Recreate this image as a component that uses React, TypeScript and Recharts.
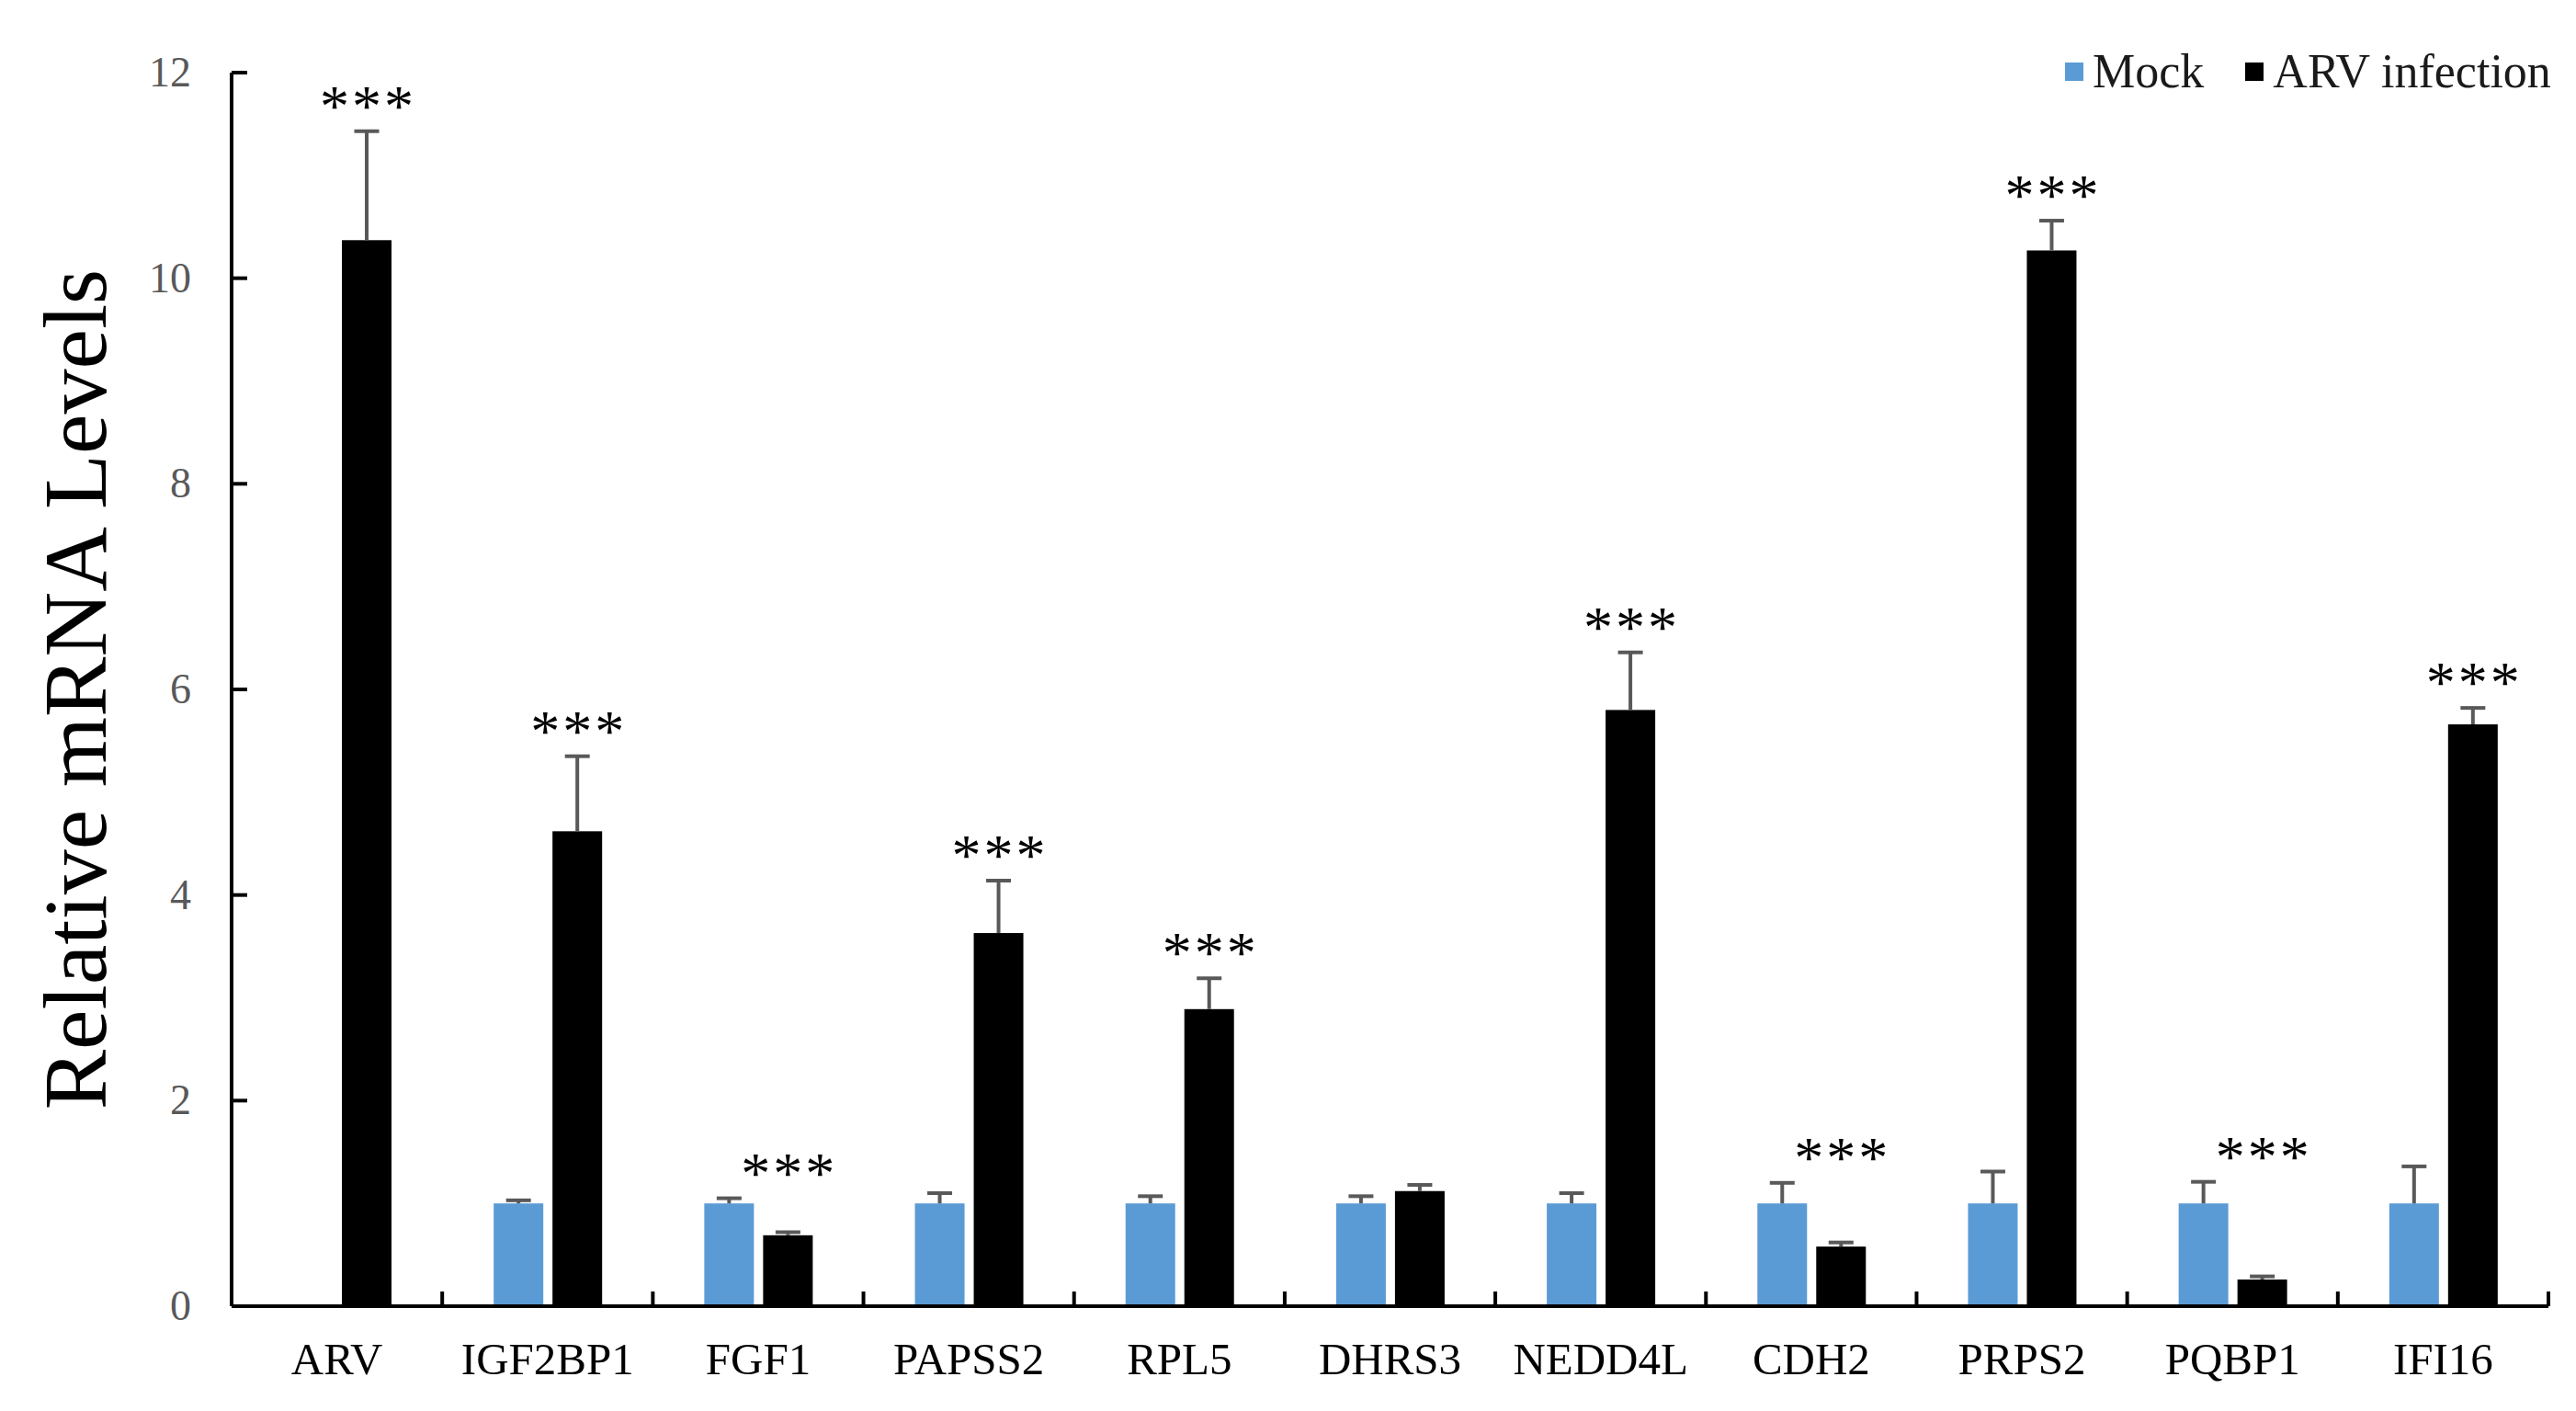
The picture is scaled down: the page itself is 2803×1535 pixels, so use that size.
import React from 'react'
import { BarChart, Bar, XAxis, YAxis, Legend, Label } from 'recharts'

const categories = ['ARV', 'IGF2BP1', 'FGF1', 'PAPSS2', 'RPL5', 'DHRS3', 'NEDD4L', 'CDH2', 'PRPS2', 'PQBP1', 'IFI16']
const mockValues = [0, 1, 1, 1, 1, 1, 1, 1, 1, 1, 1]
const mockErrors = [0, 0.03, 0.05, 0.1, 0.07, 0.07, 0.1, 0.2, 0.31, 0.21, 0.36]
const arvValues = [10.37, 4.62, 0.69, 3.63, 2.89, 1.12, 5.8, 0.58, 10.27, 0.26, 5.66]
const arvErrors = [1.06, 0.73, 0.03, 0.51, 0.3, 0.06, 0.56, 0.04, 0.29, 0.03, 0.16]
const significance = ['***', '***', '***', '***', '***', '', '***', '***', '***', '***', '***']
const seriesNames = ['Mock', 'ARV infection']
const yTicks = [0, 2, 4, 6, 8, 10, 12]

const FONT = '"Liberation Serif", "Times New Roman", serif'
const BLUE = '#5B9BD5'
const ERR_COLOR = '#595959'

const chartData = categories.map((name, i) => ({
  name,
  mock: mockValues[i],
  mockErr: mockErrors[i],
  arv: arvValues[i],
  arvErr: arvErrors[i],
  sig: significance[i]
}))

// upper half error bar only
const errorBar = (cx: number, top: number, errPx: number) => (
  <g>
    <line x1={cx} x2={cx} y1={top} y2={top - errPx} stroke={ERR_COLOR} strokeWidth={4} />
    <line x1={cx - 13.5} x2={cx + 13.5} y1={top - errPx} y2={top - errPx} stroke={ERR_COLOR} strokeWidth={4} />
  </g>
)

const MockShape = (props: any) => {
  const { x, y, width, height, fill, payload } = props
  if (!payload.mock || height <= 0) return null
  const ppu = height / payload.mock
  return (
    <g>
      <rect x={x} y={y} width={width} height={height} fill={fill} />
      {errorBar(x + width / 2, y, payload.mockErr * ppu)}
    </g>
  )
}

const ArvShape = (props: any) => {
  const { x, y, width, height, fill, payload } = props
  if (height <= 0) return null
  const ppu = height / payload.arv
  const base = y + height
  const cx = x + width / 2
  const top = Math.min(y - payload.arvErr * ppu, base - (payload.mock + payload.mockErr) * ppu)
  return (
    <g>
      <rect x={x} y={y} width={width} height={height} fill={fill} />
      {errorBar(cx, y, payload.arvErr * ppu)}
      {payload.sig && (
        <text x={cx + 1.5} y={top - 6} textAnchor="middle" fontFamily={FONT} fontSize={64} letterSpacing={3} fill="#000">
          {payload.sig}
        </text>
      )}
    </g>
  )
}

const XTick = (props: any) => {
  const { x, y, payload } = props
  const half = payload.offset ?? 0
  return (
    <g>
      <line x1={x - half} x2={x - half} y1={y} y2={y - 16} stroke="#000" strokeWidth={4} />
      {payload.index === categories.length - 1 && (
        <line x1={x + half} x2={x + half} y1={y} y2={y - 16} stroke="#000" strokeWidth={4} />
      )}
      <text x={x} y={y + 74} textAnchor="middle" fontFamily={FONT} fontSize={49} fill="#000">
        {payload.value}
      </text>
    </g>
  )
}

const YTick = (props: any) => {
  const { x, y, payload } = props
  return (
    <g>
      <line x1={x} x2={x + 17} y1={y} y2={y} stroke="#000" strokeWidth={4} />
      <text x={x - 44} y={y + 15} textAnchor="end" fontFamily={FONT} fontSize={46} fill="#595959">
        {payload.value}
      </text>
    </g>
  )
}

const renderYLabel = (props: any) => {
  const { x, y, height } = props.viewBox || {}
  const lx = x + 115
  const ly = y + height / 2
  return (
    <text x={lx} y={ly} transform={`rotate(-90, ${lx}, ${ly})`} textAnchor="middle" fontFamily={FONT} fontSize={98} fill="#000">
      Relative mRNA Levels
    </text>
  )
}

const renderLegend = (props: any) => {
  const items = [...(props.payload || [])].sort(
    (a: any, b: any) => seriesNames.indexOf(a.value) - seriesNames.indexOf(b.value)
  )
  return (
    <div style={{ display: 'flex', alignItems: 'center', fontFamily: FONT, fontSize: 52, lineHeight: '56px', color: '#1a1a1a' }}>
      {items.map((item: any, i: number) => (
        <div key={`leg-${i}`} style={{ display: 'flex', alignItems: 'center', marginLeft: i === 0 ? 0 : 45 }}>
          <span style={{ display: 'inline-block', width: 20, height: 20, background: item.color, marginRight: 10 }} />
          <span>{item.value}</span>
        </div>
      ))}
    </div>
  )
}

export default function App() {
  return (
    <div style={{ position: 'absolute', left: 0, top: 0, width: 2803, height: 1535, background: '#fff' }}>
      <BarChart
        width={2803}
        height={1535}
        data={chartData}
        margin={{ top: 79, right: 30, bottom: 14, left: 0 }}
        barSize={54}
        barGap={10}
      >
        <XAxis
          dataKey="name"
          height={100}
          interval={0}
          tickSize={0}
          tickMargin={0}
          tickLine={false}
          axisLine={{ stroke: '#000', strokeWidth: 4 }}
          tick={<XTick />}
        />
        <YAxis
          width={252}
          domain={[0, 12]}
          ticks={yTicks}
          interval={0}
          tickSize={0}
          tickMargin={0}
          tickLine={false}
          axisLine={{ stroke: '#000', strokeWidth: 4 }}
          tick={<YTick />}
        >
          <Label content={renderYLabel} />
        </YAxis>
        <Legend
          layout="horizontal"
          verticalAlign="middle"
          align="center"
          wrapperStyle={{ top: 50, left: 2247, width: 556, height: 56 }}
          content={renderLegend}
        />
        <Bar dataKey="mock" name="Mock" fill={BLUE} shape={<MockShape />} isAnimationActive={false} />
        <Bar dataKey="arv" name="ARV infection" fill="#000" shape={<ArvShape />} isAnimationActive={false} />
      </BarChart>
    </div>
  )
}
